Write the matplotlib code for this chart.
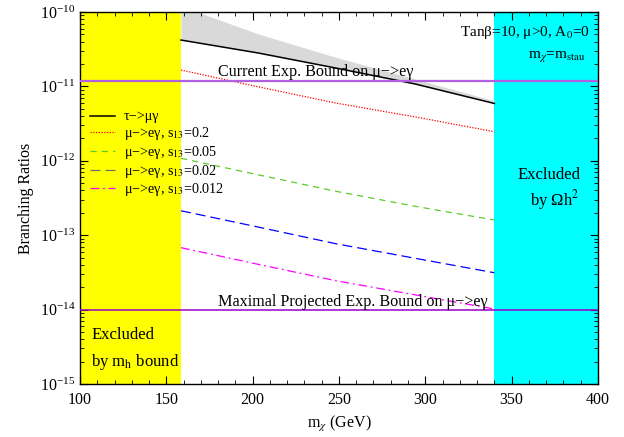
import numpy as np
import matplotlib.pyplot as plt
from matplotlib.ticker import MultipleLocator, LogLocator, NullFormatter

plt.rcParams['font.family'] = ['Liberation Serif', 'DejaVu Serif']
plt.rcParams['mathtext.fontset'] = 'stix'

# neutralino mass (GeV) where curves are sampled
mchi = [158.5, 203, 248, 294, 340]

# branching ratios
br_taumu = [4.2e-11, 2.82e-11, 1.77e-11, 1.08e-11, 5.9e-12]
band_top = [1.2e-10, 5.1e-11, 2.47e-11, 1.26e-11, 6.4e-12]
br_s13_02 = [1.66e-11, 9.9e-12, 5.98e-12, 3.9e-12, 2.46e-12]
br_s13_005 = [1.08e-12, 6.5e-13, 3.9e-13, 2.45e-13, 1.6e-13]
br_s13_002 = [2.13e-13, 1.29e-13, 7.7e-14, 4.9e-14, 3.13e-14]
br_s13_0012 = [6.8e-14, 4.07e-14, 2.45e-14, 1.58e-14, 1.02e-14]

current_bound = 1.2e-11
projected_bound = 1e-14
mh_limit = 158.5
omega_limit = 340

fig = plt.figure(figsize=(6.24, 4.37), dpi=100)
ax = fig.add_axes([0.1282, 0.1213, 0.83, 0.8512])

ax.axvspan(100, mh_limit, color='#ffff00', lw=0, zorder=0)
ax.axvspan(omega_limit, 400, color='#00ffff', lw=0, zorder=0)
ax.fill_between(mchi, br_taumu, band_top, color='#d9d9d9', lw=0, zorder=1)

ax.plot(mchi, br_taumu, color='black', lw=1.1, label='τ−>μγ', zorder=3)
ax.plot(mchi, br_s13_02, color='#ff0000', lw=0.9, ls=(0, (1, 1.2)),
        label='μ−>eγ, s$_{13}$=0.2', zorder=3)
ax.plot(mchi, br_s13_005, color='#5ccc2c', lw=0.9, ls=(0, (5, 4)),
        label='μ−>eγ, s$_{13}$=0.05', zorder=3)
ax.plot(mchi, br_s13_002, color='#0000ff', lw=0.9, ls=(0, (8, 4)),
        label='μ−>eγ, s$_{13}$=0.02', zorder=3)
ax.plot(mchi, br_s13_0012, color='#ff00ff', lw=0.9, ls=(0, (7, 3, 1.5, 3)),
        label='μ−>eγ, s$_{13}$=0.012', zorder=3)

ax.axhline(current_bound, color='#b060e0', lw=1.6, zorder=4)
ax.axhline(projected_bound, color='#9900cc', lw=1.1, zorder=4)

ax.set_xlim(100, 400)
ax.set_yscale('log')
ax.set_ylim(1e-15, 1e-10)

ax.xaxis.set_major_locator(MultipleLocator(50))
ax.xaxis.set_minor_locator(MultipleLocator(10))
ax.yaxis.set_major_locator(LogLocator(base=10, numticks=10))
ax.yaxis.set_minor_locator(LogLocator(base=10, subs=np.arange(2, 10), numticks=20))
ax.yaxis.set_minor_formatter(NullFormatter())
ax.tick_params(which='both', direction='in', top=True, right=True, labelsize=11.5)
ax.tick_params(which='major', length=6, width=0.8)
ax.tick_params(which='minor', length=3, width=0.6)
ax.tick_params(axis='x', pad=6)
for s in ax.spines.values():
    s.set_linewidth(1.0)

ax.set_xlabel('m$_\\chi$ (GeV)', fontsize=11.5)
ax.set_ylabel('Branching Ratios', fontsize=11.5)

leg = ax.legend(loc='upper left', bbox_to_anchor=(0.0, 0.762), frameon=False,
                fontsize=10.2, handlelength=1.75, handletextpad=0.65,
                labelspacing=0.12, borderaxespad=0.3)
leg.get_lines()[3].set_color('#707070')

ax.text(0.2664, 0.828, 'Current Exp. Bound on μ−>eγ', transform=ax.transAxes,
        ha='left', va='baseline', fontsize=11.6, zorder=5)
ax.text(0.2664, 0.2097, 'Maximal Projected Exp. Bound on μ−>eγ', transform=ax.transAxes,
        ha='left', va='baseline', fontsize=11.6, zorder=5)
ax.text(0.985, 0.945, 'Tanβ=10, μ>0, A$_0$=0', transform=ax.transAxes,
        ha='right', va='center', fontsize=11)
ax.text(0.975, 0.88, 'm$_\\chi$=m$_{\\rm stau}$', transform=ax.transAxes,
        ha='right', va='center', fontsize=11)
ax.text(0.906, 0.562, 'Excluded', transform=ax.transAxes,
        ha='center', va='center', fontsize=12)
ax.text(0.917, 0.495, 'by Ωh$^2$', transform=ax.transAxes,
        ha='center', va='center', fontsize=12)
ax.text(0.022, 0.132, 'Excluded', transform=ax.transAxes,
        ha='left', va='center', fontsize=12)
ax.text(0.022, 0.06, 'by m$_{\\rm h}$ bound', transform=ax.transAxes,
        ha='left', va='center', fontsize=12)

fig.savefig('out.png', dpi=100)
